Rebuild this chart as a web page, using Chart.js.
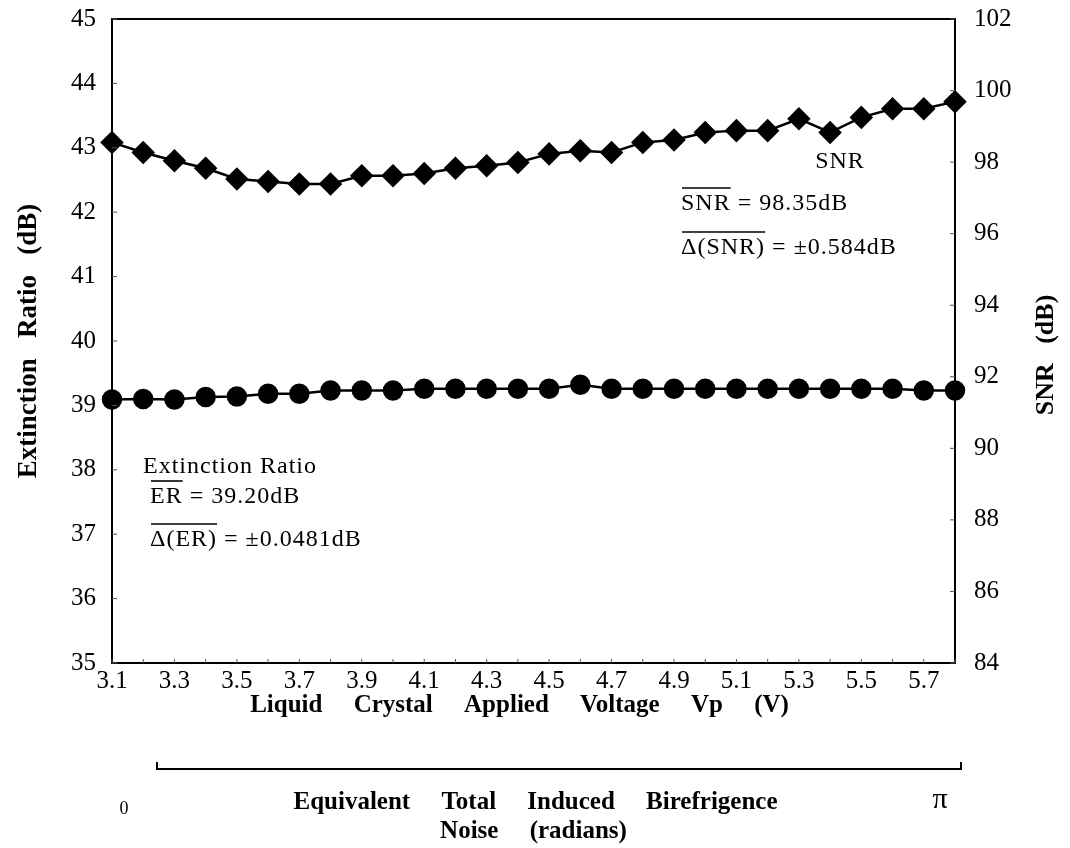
<!DOCTYPE html>
<html>
<head>
<meta charset="utf-8">
<script src="https://cdn.jsdelivr.net/npm/chart.js@4"></script>
<style>
  html, body { margin: 0; padding: 0; background: #fff; }
  #wrap { width: 1070px; height: 848px; }
</style>
</head>
<body>
<div id="wrap"><canvas id="chart" width="1070" height="848"></canvas></div>
<script>
// Liquid crystal voltage (V)
const voltages = ['3.1','3.2','3.3','3.4','3.5','3.6','3.7','3.8','3.9','4.0',
                  '4.1','4.2','4.3','4.4','4.5','4.6','4.7','4.8','4.9','5.0',
                  '5.1','5.2','5.3','5.4','5.5','5.6','5.7','5.8'];

// SNR (dB), right axis
const snrValues = [98.55, 98.27, 98.04, 97.83, 97.53, 97.46, 97.39, 97.39, 97.62, 97.62,
                   97.68, 97.83, 97.90, 97.99, 98.23, 98.32, 98.27, 98.55, 98.62, 98.83,
                   98.88, 98.88, 99.21, 98.83, 99.25, 99.49, 99.49, 99.69];

// Extinction ratio (dB), left axis
const erValues = [39.09, 39.10, 39.09, 39.13, 39.14, 39.18, 39.18, 39.23, 39.23, 39.23,
                  39.26, 39.26, 39.26, 39.26, 39.26, 39.32, 39.26, 39.26, 39.26, 39.26,
                  39.26, 39.26, 39.26, 39.26, 39.26, 39.26, 39.23, 39.23];

const SERIF = '"Liberation Serif", "DejaVu Serif", serif';
const BLACK = '#000';

Chart.defaults.font.family = SERIF;
Chart.defaults.color = BLACK;

function textWithBar(ctx, barPart, rest, x, y) {
    // text with an overline on the first part
    ctx.textAlign = 'left';
    ctx.textBaseline = 'middle';
    ctx.fillText(barPart + rest, x, y);
    const w = ctx.measureText(barPart).width;
    ctx.beginPath();
    ctx.lineWidth = 1.6;
    ctx.moveTo(x + 1, y - 16);
    ctx.lineTo(x + w, y - 16);
    ctx.stroke();
}

const decor = {
    id: 'decor',
    afterDraw(chart) {
        const ctx = chart.ctx;
        const area = chart.chartArea;
        const xs = chart.scales.x, yl = chart.scales.y, yr = chart.scales.y1;
        const midX = (area.left + area.right) / 2;
        ctx.save();
        ctx.strokeStyle = BLACK;
        ctx.fillStyle = BLACK;

        // plot frame
        ctx.lineWidth = 2;
        ctx.strokeRect(area.left, area.top, area.right - area.left, area.bottom - area.top);

        // small inward ticks
        ctx.lineWidth = 1;
        ctx.strokeStyle = '#555';
        xs.ticks.forEach((t, i) => {
            const px = xs.getPixelForTick(i);
            ctx.beginPath(); ctx.moveTo(px, area.bottom); ctx.lineTo(px, area.bottom - 4); ctx.stroke();
        });
        yl.ticks.forEach((t, i) => {
            const py = yl.getPixelForTick(i);
            ctx.beginPath(); ctx.moveTo(area.left, py); ctx.lineTo(area.left + 5, py); ctx.stroke();
        });
        yr.ticks.forEach((t, i) => {
            const py = yr.getPixelForTick(i);
            ctx.beginPath(); ctx.moveTo(area.right, py); ctx.lineTo(area.right - 5, py); ctx.stroke();
        });
        ctx.strokeStyle = BLACK;

        // right axis title
        ctx.save();
        ctx.translate(1046, (area.top + area.bottom) / 2 + 14);
        ctx.rotate(-Math.PI / 2);
        ctx.font = 'bold 26px ' + SERIF;
        ctx.textAlign = 'center';
        ctx.textBaseline = 'middle';
        ctx.fillText('SNR   (dB)', 0, 0);
        ctx.restore();

        // x axis title and the radians caption
        ctx.font = 'bold 25px ' + SERIF;
        ctx.wordSpacing = '25px';
        ctx.textAlign = 'center';
        ctx.textBaseline = 'middle';
        ctx.fillText('Liquid Crystal Applied Voltage Vp (V)', midX - 14, 706);
        ctx.fillText('Equivalent Total Induced Birefrigence', midX + 2, 803);
        ctx.fillText('Noise (radians)', midX, 832);
        ctx.wordSpacing = '0px';

        // annotations
        ctx.font = '24px ' + SERIF;
        ctx.letterSpacing = '1px';
        ctx.fillText('SNR', 840, 162);
        textWithBar(ctx, 'SNR', ' = 98.35dB', 681, 204);
        textWithBar(ctx, '\u0394(SNR)', ' = \u00b10.584dB', 681, 248);

        ctx.textAlign = 'left';
        ctx.fillText('Extinction Ratio', 143, 467);
        textWithBar(ctx, 'ER', ' = 39.20dB', 150, 497);
        textWithBar(ctx, '\u0394(ER)', ' = \u00b10.0481dB', 150, 540);
        ctx.letterSpacing = '0px';

        // bracket for radians axis
        ctx.lineWidth = 2;
        ctx.beginPath();
        ctx.moveTo(157, 762);
        ctx.lineTo(157, 769);
        ctx.lineTo(961, 769);
        ctx.lineTo(961, 762);
        ctx.stroke();

        ctx.textAlign = 'center';
        ctx.font = '18px ' + SERIF;
        ctx.fillText('0', 124, 809);
        ctx.font = '30px ' + SERIF;
        ctx.fillText('\u03c0', 940, 800);

        ctx.restore();
    }
};

const noVPad = s => { s.paddingTop = 0; s.paddingBottom = 0; };

new Chart(document.getElementById('chart'), {
    type: 'line',
    data: {
        labels: voltages,
        datasets: [
            {
                label: 'SNR',
                data: snrValues,
                yAxisID: 'y1',
                borderColor: BLACK,
                backgroundColor: BLACK,
                borderWidth: 2.5,
                pointStyle: 'rectRot',
                pointRadius: 10,
                tension: 0
            },
            {
                label: 'Extinction Ratio',
                data: erValues,
                yAxisID: 'y',
                borderColor: BLACK,
                backgroundColor: BLACK,
                borderWidth: 2.5,
                pointStyle: 'circle',
                pointRadius: 9,
                tension: 0
            }
        ]
    },
    options: {
        responsive: false,
        animation: false,
        layout: { padding: { top: 19, left: 0, right: 0, bottom: 0 } },
        plugins: { legend: { display: false }, tooltip: { enabled: false } },
        scales: {
            x: {
                type: 'category',
                offset: false,
                grid: { display: false, drawTicks: false },
                border: { display: false },
                ticks: {
                    autoSkip: false,
                    maxRotation: 0,
                    padding: 3,
                    font: { size: 25 },
                    callback: (v, i) => (i % 2 === 0 ? voltages[i] : '')
                },
                afterFit: s => { s.height = 185; }
            },
            y: {
                position: 'left',
                min: 35,
                max: 45,
                grid: { display: false, drawTicks: false },
                border: { display: false },
                ticks: { stepSize: 1, padding: 16, font: { size: 25 } },
                title: {
                    display: true,
                    text: 'Extinction   Ratio   (dB)',
                    font: { size: 27, weight: 'bold' },
                    padding: { top: 13, bottom: 0 }
                },
                afterFit: s => { s.width = 112; noVPad(s); }
            },
            y1: {
                position: 'right',
                min: 84,
                max: 102,
                grid: { display: false, drawTicks: false },
                border: { display: false },
                ticks: { stepSize: 2, padding: 19, font: { size: 25 } },
                afterFit: s => { s.width = 115; noVPad(s); }
            }
        }
    },
    plugins: [decor]
});
</script>
</body>
</html>
